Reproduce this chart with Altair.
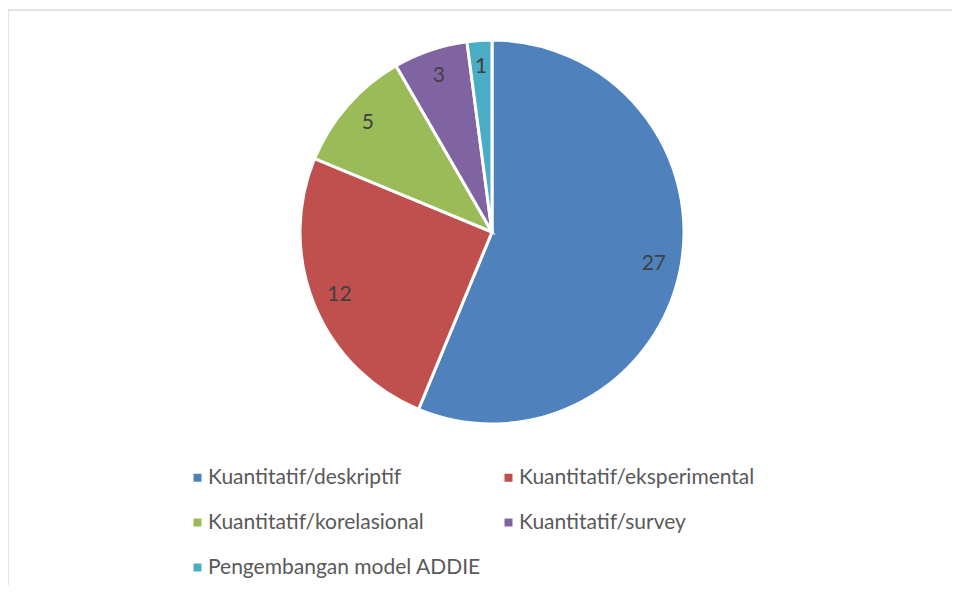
import altair as alt
import pandas as pd

categories = ["Kuantitatif/deskriptif", "Kuantitatif/eksperimental",
              "Kuantitatif/korelasional", "Kuantitatif/survey",
              "Pengembangan model ADDIE"]
values = [27, 12, 5, 3, 1]
colors = ["#4F81BD", "#C0504D", "#9BBB59", "#8064A2", "#4BACC6"]

df = pd.DataFrame({"cat": categories, "val": values, "ord": list(range(len(values)))})

W, H = 944, 575
cx, cy = 484, 222

base = alt.Chart(df).encode(
    theta=alt.Theta("val:Q", stack=True),
    order=alt.Order("ord:Q"),
)

arcs = base.mark_arc(radius=192, stroke="white", strokeWidth=3, x=cx, y=cy).encode(
    color=alt.Color(
        "cat:N",
        scale=alt.Scale(domain=categories, range=colors),
        sort=categories,
        legend=alt.Legend(
            title=None, orient="none", legendX=179, legendY=457,
            direction="horizontal", columns=2, padding=0,
            symbolType="square", symbolSize=64, symbolStrokeWidth=0,
            labelFont="Lato", labelFontSize=21, labelColor="#595959",
            labelOffset=0, rowPadding=23, columnPadding=17, labelLimit=400,
        ),
    )
)

labels = base.mark_text(radius=165, x=cx, y=cy, font="Lato", fontSize=21,
                        color="#404040").encode(text="val:Q")

frame_df = pd.DataFrame({"k": [0]})
left_border = alt.Chart(frame_df).mark_rule(color="#d9d9d9", strokeWidth=1.5).encode(
    x=alt.value(0), y=alt.value(0), y2=alt.value(H))
top_border = alt.Chart(frame_df).mark_rule(color="#d9d9d9", strokeWidth=1.5).encode(
    x=alt.value(0), x2=alt.value(W), y=alt.value(0))

chart = (left_border + top_border + arcs + labels).properties(
    width=W, height=H, autosize="none",
    padding={"left": 0, "top": 2, "right": 0, "bottom": 0},
).configure_view(stroke=None)

chart.save("out.html", embed_options={"renderer": "svg", "actions": False})
